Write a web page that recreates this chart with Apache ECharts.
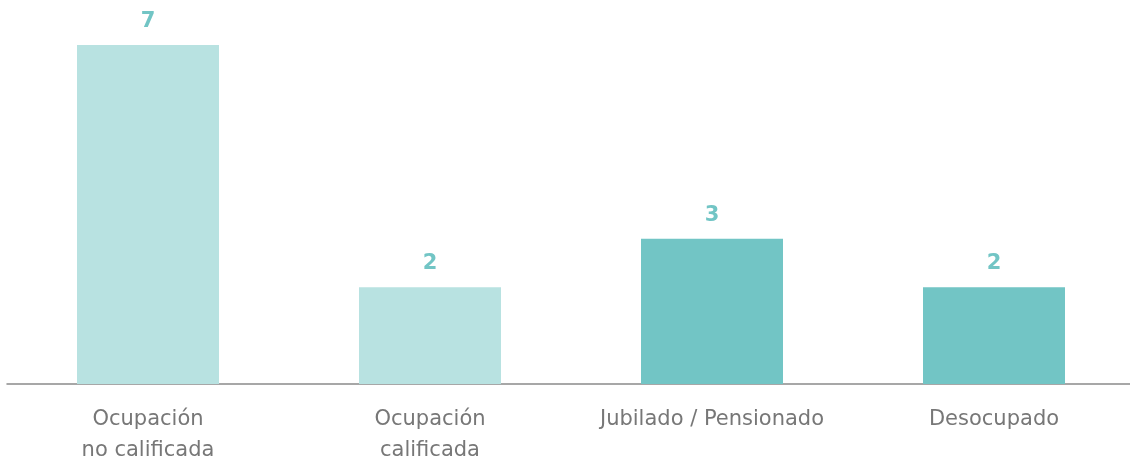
<!DOCTYPE html>
<html><head><meta charset="utf-8">
<script src="https://cdn.jsdelivr.net/npm/echarts@6/dist/echarts.min.js"></script>
<style>html,body{margin:0;padding:0;background:#fff}#c{width:1130px;height:462px}</style>
</head><body><div id="c"></div>
<script>
const categories = ['Ocupación\nno calificada', 'Ocupación\ncalificada', 'Jubilado / Pensionado', 'Desocupado'];
const values = [7, 2, 3, 2];
const barColors = ['#b8e2e1', '#b8e2e1', '#72c5c5', '#72c5c5'];

const chart = echarts.init(document.getElementById('c'));
chart.setOption({
  animation: false,
  grid: { left: 7, right: -5, top: 45, bottom: 78, containLabel: false, outerBoundsMode: 'none' },
  xAxis: {
    type: 'category',
    data: categories,
    axisLine: { show: true, lineStyle: { color: '#8a8a8a', width: 1.5 } },
    axisTick: { show: false },
    axisLabel: {
      color: '#777777', fontSize: 21, fontFamily: 'DejaVu Sans', lineHeight: 31, margin: 20, interval: 0
    }
  },
  yAxis: { type: 'value', min: 0, max: 7, show: false, splitLine: { show: false } },
  series: [{
    type: 'bar',
    barWidth: 142,
    data: values.map((v, i) => ({ value: v, itemStyle: { color: barColors[i] } })),
    label: {
      show: true, position: 'top', distance: 13,
      color: '#72c5c5', fontSize: 21, fontWeight: 'bold', fontFamily: 'DejaVu Sans'
    }
  }]
});
</script></body></html>
